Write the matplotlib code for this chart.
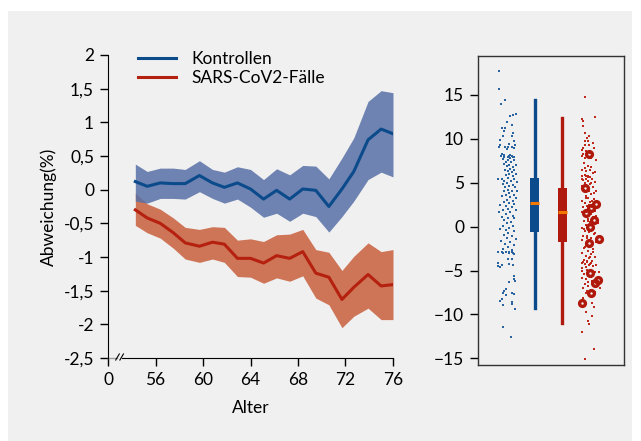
import matplotlib
matplotlib.use("Agg")
import matplotlib.pyplot as plt
from matplotlib.patches import Rectangle
from matplotlib.lines import Line2D
from matplotlib.ticker import FuncFormatter

plt.rcParams["font.family"] = ["Lato", "DejaVu Sans"]

# --- left panel: deviation by age ---
alter = [54.3, 55.3, 56.4, 57.5, 58.5, 59.7, 60.8, 61.8, 62.9, 64.0, 65.1,
         66.2, 67.3, 68.4, 69.5, 70.6, 71.7, 72.7, 73.9, 75.0, 76.0]
kontr = [0.12, 0.05, 0.10, 0.09, 0.09, 0.21, 0.10, 0.035, 0.10, 0.01, -0.14,
         -0.01, -0.14, 0.01, -0.01, -0.25, 0.01, 0.27, 0.74, 0.90, 0.83]
kontr_hi = [0.38, 0.27, 0.32, 0.32, 0.30, 0.43, 0.30, 0.26, 0.34, 0.30, 0.15,
            0.31, 0.22, 0.36, 0.35, 0.16, 0.47, 0.77, 1.31, 1.47, 1.44]
kontr_lo = [-0.17, -0.20, -0.13, -0.13, -0.14, -0.03, -0.13, -0.20, -0.14, -0.26, -0.41,
            -0.35, -0.47, -0.35, -0.40, -0.63, -0.40, -0.17, 0.15, 0.26, 0.19]
faelle = [-0.30, -0.42, -0.50, -0.64, -0.79, -0.84, -0.78, -0.81, -1.02, -1.02, -1.09,
          -0.98, -1.02, -0.92, -1.24, -1.30, -1.63, -1.45, -1.26, -1.43, -1.41]
faelle_hi = [-0.05, -0.21, -0.29, -0.42, -0.56, -0.59, -0.55, -0.56, -0.75, -0.73, -0.77,
             -0.67, -0.66, -0.59, -0.89, -0.93, -1.20, -0.99, -0.79, -0.92, -0.89]
faelle_lo = [-0.53, -0.64, -0.72, -0.87, -1.03, -1.08, -1.03, -1.08, -1.29, -1.30, -1.39,
             -1.31, -1.36, -1.28, -1.61, -1.71, -2.05, -1.88, -1.76, -1.93, -1.93]

yticks = [2, 1.5, 1, 0.5, 0, -0.5, -1, -1.5, -2, -2.5]
xticks = [52, 56, 60, 64, 68, 72, 76]
xticklabels = ["0", "56", "60", "64", "68", "72", "76"]

# --- right panel: individual deviations (jitter, value) ---
blau_x = [-0.30, -0.28, -0.07, -0.20, 0.32, 0.23, 0.11, -0.01, 0.20, -0.19, -0.08, -0.12,
          0.22, 0.18, -0.14, -0.26, 0.24, 0.09, -0.26, 0.30, -0.08, 0.05, 0.17, -0.28,
          0.24, 0.00, -0.17, 0.10, 0.17, 0.03, -0.11, 0.24, 0.10,
          -0.22, -0.10, 0.09, 0.21, -0.16, 0.05, 0.27, -0.04, 0.15, -0.12, 0.09, 0.33,
          0.00, 0.21, 0.12, -0.07, 0.27, 0.02, 0.17, 0.09, 0.33, -0.04, 0.21, -0.31,
          -0.19, 0.05, 0.27, -0.10, 0.15, 0.36, 0.00, -0.16, 0.21, 0.09, -0.07, 0.29,
          0.02, 0.17, -0.12, 0.36, 0.09, -0.04, 0.24, -0.19, 0.12, 0.33, 0.00, 0.21,
          -0.12, 0.09, 0.27, -0.24, -0.04, 0.17, 0.05, -0.16, 0.33, -0.28, 0.12, -0.04,
          0.21, -0.19, 0.05, 0.27, -0.10, 0.15, 0.00, -0.16, 0.21, 0.09, -0.24, -0.04,
          0.27, 0.05, -0.12, 0.17, 0.00, 0.33, -0.22, 0.12, -0.07, 0.24, 0.02, -0.16,
          0.17, -0.34, -0.04, 0.09, 0.27,
          -0.16, -0.19, 0.06, 0.17, 0.21, 0.05, 0.18, -0.31, -0.34, -0.27, -0.17, 0.09,
          0.22, 0.27, 0.24, 0.28, 0.06, -0.02, -0.10, -0.13, -0.04, 0.19, 0.24, -0.19,
          -0.27, 0.19, 0.17, -0.14, 0.30, -0.16, 0.16]
blau_y = [17.65, 15.65, 14.43, 13.9, 12.8, 12.64, 12.53, 11.85, 11.6, 11.16, 11.2, 10.86,
          10.6, 10.33, 10.33, 9.87, 9.76, 9.42, 9.3, 9.27, 9.1, 9.04, 9.04, 9.04,
          8.9, 8.8, 8.2, 8.17, 7.97, 7.9, 7.86, 7.86, 7.75,
          7.98, 8.09, 7.98, 7.87, 7.71, 7.6, 7.6, 7.33, 7.33, 7.1, 7.03, 7.03,
          6.84, 6.73, 6.57, 6.46, 6.46, 6.27, 6.19, 5.97, 5.97, 5.81, 5.7, 5.43,
          5.43, 5.51, 5.43, 5.21, 5.13, 5.05, 4.94, 4.83, 4.75, 4.56, 4.45, 4.45,
          4.18, 4.07, 3.99, 3.99, 3.8, 3.61, 3.61, 3.42, 3.31, 3.23, 3.04, 2.93,
          2.77, 2.66, 2.55, 2.47, 2.39, 2.17, 2.01, 1.9, 1.9, 1.63, 1.63, 1.41,
          1.25, 1.14, 1.03, 0.95, 0.76, 0.57, 0.38, 0.11, 0.11, -0.11, -0.27, -0.38,
          -0.49, -0.76, -0.95, -1.03, -1.33, -1.41, -1.63, -1.79, -2.01, -2.09, -2.28, -2.55,
          -2.66, -2.85, -2.93, -3.04, -3.15,
          -3.03, -2.88, -2.95, -2.84, -3.03, -3.71, -3.71, -4.09, -4.47, -4.55, -4.4, -4.25,
          -4.36, -5.61, -5.99, -6.18, -6.26, -7.06, -7.29, -7.59, -7.74, -7.51, -7.67, -8.27,
          -8.43, -8.58, -8.84, -8.96, -9.41, -11.39, -12.53]

rot_x = [-0.18, 0.20, -0.28, -0.26, -0.24, -0.16, -0.02, -0.09, -0.18, -0.06, 0.12, -0.18,
         -0.03, 0.14, -0.24, -0.30, -0.15, -0.24, -0.10, 0.00, -0.30, -0.18, 0.06, 0.24,
         -0.22, -0.06, -0.18, 0.06, -0.27, -0.12, 0.00, 0.18, -0.18, -0.06, -0.30, -0.15,
         -0.30, -0.15, 0.00, -0.24, -0.06, 0.09, -0.18, 0.02, 0.18, -0.27, -0.10, 0.12,
         -0.03, -0.22, 0.24, 0.06, -0.15, -0.06, 0.14, -0.27, 0.02, -0.18, -0.10, 0.09,
         -0.24, -0.03, 0.18, -0.30, 0.06, -0.15, 0.24, -0.06, -0.22, 0.02, 0.30, -0.12,
         -0.27, 0.12, -0.18, -0.03, 0.18, -0.24, -0.10, 0.06, -0.30, 0.21, -0.15, 0.02,
         -0.22, 0.12, -0.06, -0.27, 0.06, -0.15, 0.18, -0.03, -0.22, 0.09, -0.10, -0.30,
         0.00,
         -0.24, -0.10, 0.06, -0.18, -0.03, 0.12, -0.27, -0.12, -0.30, 0.18, 0.33, -0.22,
         -0.06, -0.27, -0.15, 0.09, -0.18, -0.06, -0.24, 0.36, -0.10, 0.18, -0.15, -0.24,
         0.07, 0.17, -0.12, 0.08, -0.06, -0.04, -0.28, 0.17, -0.16,
         0.10, -0.08, 0.04, -0.20, 0.15, -0.12, 0.08, -0.02, 0.20, -0.14, 0.11, -0.05,
         0.03, -0.21, 0.16, -0.09, 0.06, -0.17, 0.13, -0.01, 0.22, -0.11, 0.05, -0.07]
rot_y = [14.73, 12.42, 12.23, 12.04, 11.39, 10.59, 10.25, 10.06, 9.68, 9.68, 9.49, 9.3,
         9.3, 8.92, 8.92, 8.73, 8.54, 8.27, 8.16, 8.35, 7.97, 7.78, 7.78, 7.59,
         7.21, 6.91, 6.64, 6.75, 6.45, 6.37, 6.45, 6.15, 5.88, 5.77, 5.39, 5.39,
         5.7, 5.78, 5.59, 5.32, 5.21, 5.43, 4.94, 4.83, 5.05, 4.67, 4.56, 4.45,
         4.07, 3.99, 3.99, 3.69, 3.53, 3.23, 3.15, 2.93, 2.77, 2.66, 2.39, 2.28,
         2.17, 1.9, 1.79, 1.63, 1.41, 1.14, 1.25, 0.87, 0.65, 0.49, 0.38, 0.19,
         -0.11, -0.19, -0.49, -0.65, -0.76, -1.03, -1.25, -1.33, -1.52, -1.71, -2.09, -2.28,
         -2.47, -2.55, -2.77, -3.04, -3.15, -3.31, -3.42, -3.61, -3.8, -3.91, -4.07, -4.18,
         -4.29,
         -3.98, -3.9, -4.09, -4.25, -4.36, -4.47, -4.74, -4.63, -5.0, -5.12, -5.12, -5.39,
         -5.61, -5.88, -5.99, -6.15, -6.53, -6.75, -7.02, -7.02, -7.29, -7.4, -7.59, -8.16,
         -8.65, -9.19, -9.72, -10.17, -10.71, -11.09, -11.96, -13.9, -15.04,
         6.1, 5.6, 4.9, 4.2, 3.8, 3.3, 2.9, 2.5, 2.0, 1.7, 1.1, 0.6,
         0.3, -0.3, -0.9, -1.1, -1.6, -2.3, -2.9, -3.5, -4.4, -4.9, -5.7, -6.3]
ring_x = [-0.03, -0.19, 0.24, -0.12, 0.14, 0.00, 0.34, -0.04, 0.06,
          0.02, 0.30, 0.18, 0.03, -0.27]
ring_y = [8.2, 4.4, 2.55, 1.5, 0.75, 0.0, -1.45, -1.9, 2.1,
          -5.23, -6.07, -6.45, -7.51, -8.73]

# box statistics
box_pos = [2, 3]
box_med = [2.66, 1.63]
box_q1 = [-0.57, -1.71]
box_q3 = [5.58, 4.41]
box_lo = [-9.23, -10.94]
box_hi = [14.43, 12.38]

BLUE_LINE = "#0b4a8b"
BLUE_BAND = "#5770a6"
RED_LINE = "#b5200f"
RED_BAND = "#c95f3c"
BLUE_DOT = "#2a64a0"
RED_DOT = "#c0281c"
RING = "#b0180c"
BG = "#f0f0f0"
FS = 12.5

fig = plt.figure(figsize=(6.41, 4.41), dpi=100)
fig.patches.append(Rectangle((8 / 641, 0), 624 / 641, 430 / 441,
                             transform=fig.transFigure, facecolor=BG,
                             edgecolor="none", zorder=-10))

ax = fig.add_axes([0.1685, 0.1882, 0.4446, 0.6871])
ax.set_facecolor("none")
ax.fill_between(alter, faelle_lo, faelle_hi, color=RED_BAND, alpha=0.85, lw=0)
ax.fill_between(alter, kontr_lo, kontr_hi, color=BLUE_BAND, alpha=0.85, lw=0)
ax.plot(alter, kontr, color=BLUE_LINE, lw=2.2, label="Kontrollen")
ax.plot(alter, faelle, color=RED_LINE, lw=2.2, label="SARS-CoV2-Fälle")
ax.set_xlim(52, 76)
ax.set_ylim(-2.5, 2)
ax.set_xticks(xticks)
ax.set_xticklabels(xticklabels)
ax.set_yticks(yticks)
ax.yaxis.set_major_formatter(FuncFormatter(lambda v, p: f"{v:g}".replace(".", ",")))
for s in ["top", "right"]:
    ax.spines[s].set_visible(False)
ax.spines["bottom"].set_bounds(53.2, 76)
ax.tick_params(length=6, width=1, labelsize=FS, pad=4)
ax.set_xlabel("Alter", fontsize=FS, labelpad=9)
ax.set_ylabel("Abweichung(%)", fontsize=FS, labelpad=5)
# axis break
ax.plot([52, 52.75], [-2.5, -2.5], color="#9a9a9a", lw=1, clip_on=False)
for dx in (52.65, 53.0):
    ax.add_line(Line2D([dx, dx + 0.3], [-2.53, -2.44], color="black", lw=0.8, clip_on=False))
ax.legend(loc="upper left", bbox_to_anchor=(0.05, 1.065), frameon=False,
          fontsize=FS, handlelength=2.2, handletextpad=0.9, labelspacing=0.2)

# right panel
ax2 = fig.add_axes([0.7457, 0.1723, 0.2278, 0.7007])
ax2.set_facecolor("none")
ax2.scatter([1 + v for v in blau_x], blau_y, s=3, marker="s", color=BLUE_DOT, lw=0)
ax2.scatter([4 + v for v in rot_x], rot_y, s=3, marker="s", color=RED_DOT, lw=0)
ax2.plot([4 + v for v in ring_x], ring_y, ls="none", marker="o", ms=4.2,
         mfc="none", mec=RING, mew=2.4)
stats = [dict(med=box_med[i], q1=box_q1[i], q3=box_q3[i], whislo=box_lo[i],
              whishi=box_hi[i], fliers=[]) for i in range(2)]
for st, pos, c in zip(stats, box_pos, [BLUE_LINE, "#b01a0e"]):
    ax2.bxp([st], positions=[pos], widths=0.33, patch_artist=True, showcaps=False,
            showfliers=False,
            boxprops=dict(facecolor=c, edgecolor=c, lw=0),
            whiskerprops=dict(color=c, lw=2.4),
            medianprops=dict(color="#f07800", lw=2.2))
ax2.set_xlim(-0.05, 5.24)
ax2.set_ylim(-15.75, 19.4)
ax2.set_xticks([])
ax2.set_yticks([15, 10, 5, 0, -5, -10, -15])
for s in ax2.spines.values():
    s.set_color("#333333")
    s.set_linewidth(1)
ax2.tick_params(axis="y", length=6, width=1, labelsize=FS, pad=4)

fig.savefig("out.png", dpi=100, facecolor="white")
